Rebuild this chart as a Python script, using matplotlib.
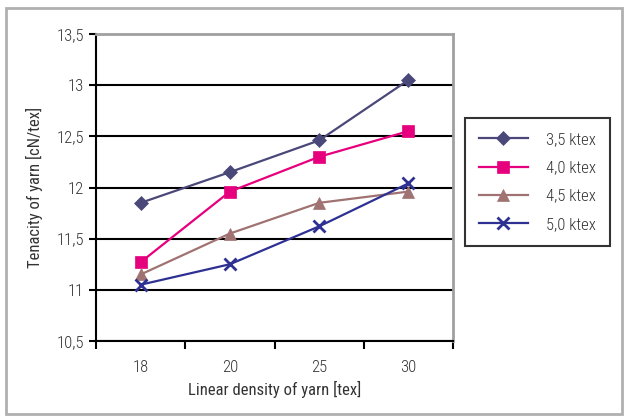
import matplotlib
matplotlib.use('Agg')
import matplotlib.pyplot as plt
from matplotlib.patches import Rectangle

plt.rcParams['font.family'] = ['Roboto Condensed', 'DejaVu Sans']
plt.rcParams['font.weight'] = 300

# Datos
categorias = ['18', '20', '25', '30']
series = ['3,5 ktex', '4,0 ktex', '4,5 ktex', '5,0 ktex']
tenacidad_35 = [11.85, 12.15, 12.46, 13.05]
tenacidad_40 = [11.27, 11.96, 12.30, 12.55]
tenacidad_45 = [11.15, 11.55, 11.85, 11.96]
tenacidad_50 = [11.05, 11.25, 11.62, 12.04]
y_ticks = [10.5, 11, 11.5, 12, 12.5, 13, 13.5]
y_labels = ['10,5', '11', '11,5', '12', '12,5', '13', '13,5']

colores = ['#4a4878', '#e6007e', '#a07272', '#2e3192']
marcadores = ['D', 's', '^', 'x']
tam = [7, 9, 9, 9]

fig = plt.figure(figsize=(6.27, 4.16), dpi=100)
# marco exterior gris
fig.patches.append(Rectangle((6 / 627, 2 / 416), 616 / 627, 406 / 416, transform=fig.transFigure,
                             fill=False, edgecolor='#b0b0b0', linewidth=2))

ax = fig.add_axes([96 / 627, 75 / 416, 357 / 627, 307 / 416])
x = range(len(categorias))
datos = [tenacidad_35, tenacidad_40, tenacidad_45, tenacidad_50]
for i, vals in enumerate(datos):
    ax.plot(x, vals, color=colores[i], marker=marcadores[i], markersize=tam[i],
            markeredgewidth=2 if marcadores[i] == 'x' else 0.5, linewidth=1.6,
            label=series[i])

ax.set_xlim(-0.5, 3.5)
ax.set_ylim(10.5, 13.5)
ax.set_yticks(y_ticks)
ax.set_yticklabels(y_labels)
ax.set_xticks([-0.5, 0.5, 1.5, 2.5, 3.5])
ax.set_xticklabels([])
ax.set_xticks(list(x), minor=True)
ax.set_xticklabels(categorias, minor=True)
ax.tick_params(axis='x', which='minor', length=0, pad=14, labelsize=12, labelcolor='#333333')
ax.tick_params(axis='x', which='major', length=6, width=1.5, direction='out')
ax.tick_params(axis='y', length=5, width=1.5, labelsize=12, labelcolor='#333333')
ax.yaxis.grid(True, color='black', linewidth=1.5)
ax.set_axisbelow(True)
for s in ['top', 'right']:
    ax.spines[s].set_color('#a0a0a0')
    ax.spines[s].set_linewidth(2)
ax.spines['left'].set_linewidth(1.5)
ax.spines['bottom'].set_linewidth(1.5)

ax.set_xlabel('Linear density of yarn [tex]', fontsize=12, color='#333333', labelpad=4)
ax.set_ylabel('Tenacity of yarn [cN/tex]', fontsize=12, color='#333333', labelpad=10)

leg = ax.legend(loc='center left', bbox_to_anchor=(465 / 627, 234 / 416),
                bbox_transform=fig.transFigure, frameon=True, fancybox=False,
                fontsize=12, labelspacing=0.8, handlelength=2.9, borderpad=0.85,
                handletextpad=1.1, borderaxespad=0)
leg.get_frame().set_edgecolor('black')
leg.get_frame().set_linewidth(1.5)
for t in leg.get_texts():
    t.set_color('#333333')

fig.savefig('out.png', dpi=100)
